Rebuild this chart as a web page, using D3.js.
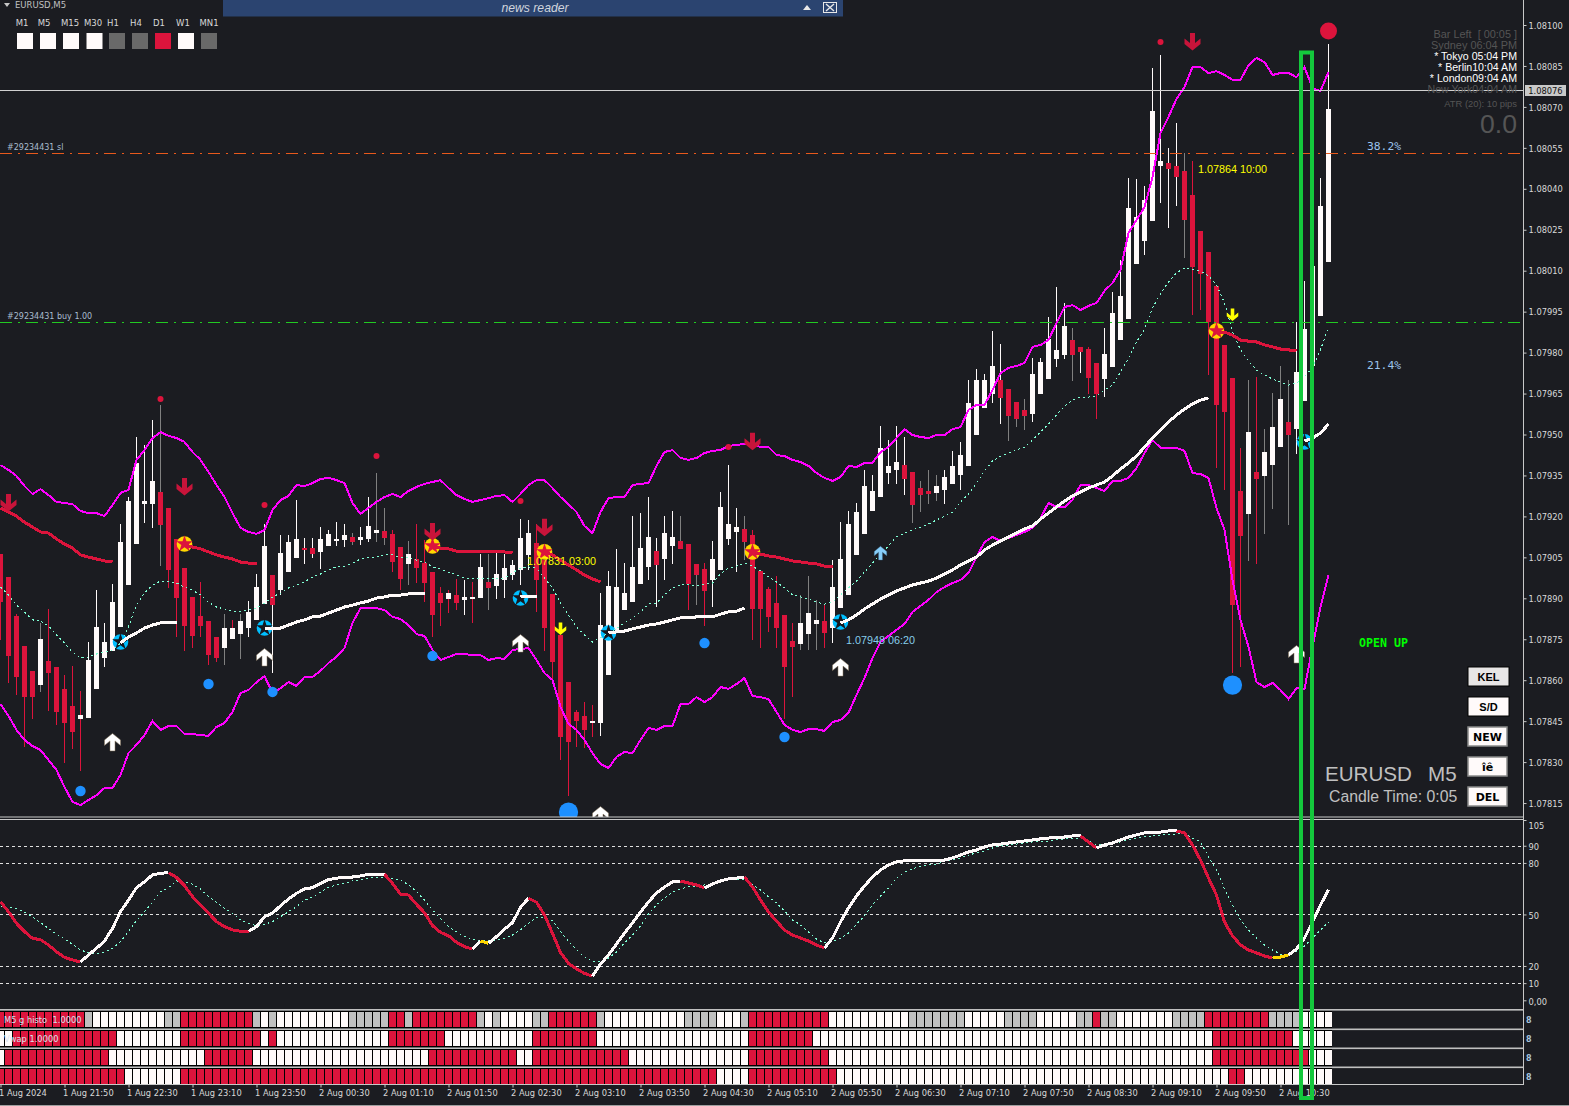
<!DOCTYPE html>
<html><head><meta charset="utf-8">
<script src="https://cdnjs.cloudflare.com/ajax/libs/d3/7.8.5/d3.min.js"></script>
<style>
html,body{margin:0;padding:0;background:#1b1c21;overflow:hidden}
svg{display:block}
</style></head><body>
<svg id="c" width="1569" height="1106" font-family="DejaVu Sans, sans-serif"></svg>
<script>
// All price series are in points above 1.07800 (1 point = 0.00001).
const gap=n=>Array(n).fill(null);
const highs=[106.2,97.8,84.2,72.5,63.4,81.0,86.1,64.8,61.9,65.2,
56.0,74.0,93.0,81.0,95.2,117.2,127.1,149.1,146.2,155.3,
160.8,123.1,111.7,101.1,90.5,96.0,81.7,75.8,84.2,82.1,
84.2,89.0,98.9,117.2,98.5,113.2,113.2,126.0,112.1,112.1,
116.1,115.0,117.9,117.2,113.9,116.1,127.1,135.9,123.1,115.0,
108.8,111.0,117.2,111.4,99.6,94.1,93.0,97.1,96.7,96.0,
106.2,106.2,107.7,106.2,104.0,119.0,118.7,117.2,104.0,91.6,
76.6,59.3,49.1,52.0,50.9,91.9,100.0,108.1,102.9,120.1,
121.2,127.1,112.1,120.1,122.0,120.1,109.9,102.6,102.9,111.0,
128.9,138.8,123.1,120.1,115.0,100.0,94.1,98.2,83.9,81.0,
91.2,98.2,89.4,87.5,104.0,117.9,122.0,124.9,137.0,135.2,
153.1,148.0,153.1,149.1,136.3,133.0,137.0,135.2,137.0,144.0,
147.3,170.0,174.0,172.2,187.9,183.2,166.7,161.9,163.0,178.0,
178.0,193.0,204.0,198.2,189.0,182.1,182.1,176.2,189.0,202.2,
213.9,244.0,243.6,241.0,284.3,289.0,254.9,264.1,253.1,250.2,
224.5,216.8,204.4,182.8,170.7,145.1,170.0,171.1,152.0,165.2,
175.1,170.0,191.2,206.2,211.7,244.0,293.0];
const opens=[106.2,97.8,83.5,72.5,63.4,58.2,67.0,64.8,56.8,50.5,
45.8,46.2,56.8,68.1,70.7,79.5,94.9,109.9,124.5,124.5,
128.9,123.1,111.7,101.1,90.5,83.5,81.7,75.8,71.8,75.1,
76.9,79.1,82.1,87.9,98.5,93.0,99.6,104.8,108.4,108.4,
107.0,109.2,111.0,111.4,112.5,111.4,111.7,113.9,114.7,113.6,
108.8,102.6,104.4,102.9,99.6,91.9,89.7,91.2,89.4,89.7,
90.1,96.0,94.5,96.7,98.5,100.4,105.9,110.3,104.0,91.6,
76.6,59.3,48.4,46.9,44.3,44.3,61.9,78.4,85.7,88.6,
95.2,101.5,107.3,104.4,109.2,111.0,109.9,102.6,100.7,96.7,
100.4,111.7,114.3,115.4,113.2,100.0,93.4,88.3,83.9,74.4,
73.3,76.9,80.6,81.7,79.1,86.4,91.2,105.9,113.6,122.0,
127.1,135.9,137.0,138.8,136.3,130.4,129.3,128.6,129.7,131.9,
135.2,138.5,149.8,159.7,164.8,170.0,166.7,161.9,159.0,157.5,
164.8,170.3,177.7,179.1,184.6,182.1,181.3,176.2,170.3,174.7,
184.6,192.3,212.5,220.9,228.2,248.4,249.5,248.4,246.5,237.7,
224.5,216.8,204.4,182.8,170.7,129.3,120.9,136.3,134.8,138.8,
145.4,154.6,152.0,162.3,175.1,193.4,213.2];
const closes=[88.6,68.9,61.2,53.8,53.8,75.1,62.6,48.4,44.3,41.0,
47.3,67.4,79.5,74.0,88.6,110.6,125.6,139.6,125.6,133.0,
116.8,100.4,90.1,79.9,76.2,79.9,69.2,68.1,79.1,79.1,
81.7,85.0,94.1,109.2,87.5,106.6,110.6,111.7,107.7,106.2,
111.7,113.6,111.7,113.2,110.6,112.5,116.5,115.0,112.1,103.3,
97.1,106.2,101.1,95.6,83.9,88.3,91.9,88.3,90.5,90.5,
101.5,93.8,98.9,101.1,102.2,112.1,113.9,96.7,79.1,66.7,
39.2,37.4,45.1,41.8,45.1,80.2,94.5,94.1,91.9,101.5,
108.4,112.5,102.2,113.9,112.5,108.1,95.2,98.5,92.7,104.4,
123.4,117.2,116.1,110.6,86.1,86.1,83.2,79.1,64.8,72.2,
81.0,84.6,82.1,77.3,94.1,104.4,117.2,121.6,131.1,129.3,
145.1,138.5,139.9,133.7,124.2,127.8,128.2,131.1,134.4,138.5,
142.5,161.5,170.0,170.0,175.1,163.4,156.8,155.7,156.8,172.2,
176.6,185.0,181.0,189.7,179.1,180.2,170.7,164.8,179.5,194.5,
200.7,233.0,229.7,235.9,268.5,250.2,247.3,244.3,228.6,211.4,
208.8,191.2,160.8,158.2,87.5,112.8,150.9,133.7,143.6,152.7,
163.0,149.8,172.9,188.6,211.7,233.7,269.2];
const lows=[74.7,59.0,54.6,35.5,45.8,55.7,48.7,43.6,29.7,34.8,
26.7,46.2,56.8,64.8,70.7,79.5,94.9,109.9,117.6,115.8,
101.8,93.8,75.8,70.7,71.8,75.8,65.6,66.7,65.6,75.1,
67.8,75.8,82.1,87.9,62.6,91.2,99.6,104.8,102.6,104.8,
100.7,109.2,109.2,108.8,109.5,109.5,110.6,110.6,109.5,99.6,
93.0,94.9,95.6,88.6,75.8,79.9,84.6,85.7,83.9,81.0,
90.1,85.7,89.7,90.1,96.7,94.9,100.4,85.0,70.7,60.1,
30.8,17.6,35.5,35.2,39.2,39.6,61.9,78.4,85.7,88.6,
95.2,96.7,86.8,96.7,102.6,108.1,85.7,87.5,79.9,86.8,
100.4,109.5,99.6,104.0,74.7,71.8,77.7,71.8,45.8,53.8,
71.1,71.1,71.1,71.8,73.6,86.4,91.2,105.9,113.6,122.0,
127.1,131.9,131.9,127.8,117.6,121.6,124.5,125.6,124.5,131.9,
129.7,138.5,149.8,159.7,161.5,153.8,147.6,152.7,151.6,154.6,
164.8,170.3,174.7,177.7,169.6,172.5,164.8,155.7,163.7,174.7,
184.6,192.3,212.5,215.7,228.2,234.8,225.6,233.7,214.7,193.8,
195.6,171.8,137.7,129.7,62.6,64.8,103.7,102.6,113.6,122.7,
145.4,116.8,142.9,162.3,175.1,193.4,213.2];
const wickTones=("rrrrrgrrrr"+"rwwwwwwwww"+"grrrrrrrgr"+"gwwwwwwwww"+"wwwwgwwggr"+"rgrrrrrrwr"+"wgwwwwwrrr"+"rrrrrwwwww"+"wwwwwgrgrw"+"wwwgrrrrrr"+"gggrwwwwww"+"wwwwggggww"+"wwwwwwgggw"+"wwwwgwrrww"+"wwwwwwwwgr"+"rrrrrrgrgg"+"ggwwwww").split("");
const upperBand=[138.8,137.0,134.8,131.1,128.2,130.0,127.8,125.3,124.9,124.5,
122.0,121.2,121.2,120.1,124.2,128.6,129.7,140.7,144.3,148.7,
150.9,149.5,148.7,147.3,143.6,140.7,136.3,131.5,127.1,121.2,
115.8,114.3,113.6,115.0,122.3,126.0,127.5,131.5,131.1,132.2,
133.7,134.1,133.3,132.2,124.9,120.9,123.1,125.3,127.1,128.2,
127.1,129.3,130.8,131.9,132.6,133.3,130.4,127.8,126.4,125.3,
126.0,126.7,127.5,127.8,125.3,128.2,131.5,133.3,133.3,130.4,
127.1,124.5,121.6,116.5,113.9,121.6,126.7,127.1,127.1,131.5,
131.9,132.2,138.5,143.6,144.3,141.4,140.7,141.4,143.2,144.0,
144.3,145.8,146.2,146.5,146.5,145.4,145.4,142.5,142.1,140.7,
139.9,138.5,135.9,134.1,133.0,134.4,138.5,138.1,139.6,139.6,
143.6,145.4,148.7,152.0,149.8,149.1,148.7,149.8,149.8,152.0,
152.7,159.0,160.8,160.8,166.3,172.5,174.4,175.1,176.2,182.1,
182.8,184.6,190.8,196.7,197.4,195.6,197.1,198.2,202.6,205.5,
210.3,223.8,228.6,233.3,244.3,260.4,266.3,272.9,277.3,284.6,
284.6,282.4,283.1,281.7,279.9,279.9,285.3,287.9,286.4,281.7,
282.4,282.4,280.9,284.6,276.9,275.8,282.8];
const lowerBand=[51.3,46.9,41.8,38.1,35.9,34.4,30.8,27.1,20.9,15.4,
14.3,16.1,17.9,20.5,20.5,25.3,33.3,36.3,39.9,45.1,
41.8,43.2,43.2,40.3,40.3,39.9,39.6,42.9,44.3,48.4,
55.3,56.4,59.3,61.5,55.3,57.1,59.3,57.9,61.2,61.2,
63.4,66.3,68.5,71.8,81.0,86.4,86.4,86.4,85.7,83.2,
82.4,80.2,76.9,76.2,71.1,67.4,68.5,69.6,69.6,69.2,
69.2,67.4,68.1,67.8,71.1,71.4,71.8,67.4,62.6,60.1,
50.2,44.0,41.8,38.1,33.3,29.3,27.8,31.9,33.7,33.3,
38.1,42.5,41.8,43.2,43.2,51.3,51.3,53.8,52.0,53.8,
57.5,56.8,58.6,60.8,54.2,53.8,53.1,48.4,43.6,41.8,
41.0,42.1,42.1,41.4,44.7,45.4,48.0,54.6,60.8,68.1,
74.0,76.2,78.4,80.6,85.0,87.2,89.4,92.3,94.1,95.6,
96.7,99.3,105.1,110.6,112.5,111.0,112.1,113.2,114.3,115.8,
119.4,124.9,123.4,123.4,126.0,131.5,131.5,130.4,129.3,133.0,
133.0,134.1,137.7,143.2,148.0,145.1,145.1,145.1,144.0,135.9,
135.5,134.1,123.1,115.0,96.7,82.1,72.2,59.3,57.5,59.0,
56.4,53.1,57.1,56.8,72.2,86.8,98.5];
const slowAverage=[94.1,91.2,87.5,85.0,82.1,81.7,79.9,76.6,73.6,70.3,
68.1,68.5,69.6,70.3,71.1,73.6,79.5,87.5,91.9,94.9,
96.3,96.3,95.6,94.1,93.0,91.2,88.6,86.8,86.1,85.3,
85.3,85.7,86.4,88.3,90.5,91.9,93.8,94.9,96.0,97.8,
98.9,100.4,101.5,101.8,102.9,104.4,105.1,105.1,105.9,105.9,
104.8,105.1,104.0,103.3,101.5,100.7,99.6,98.5,97.4,97.1,
97.4,97.4,97.1,97.4,99.3,101.1,101.5,101.1,97.4,93.8,
88.3,83.9,79.5,76.6,74.0,75.5,77.3,78.8,81.0,82.8,
85.0,87.9,88.3,91.2,93.8,94.9,94.9,94.5,95.2,95.6,
98.9,101.1,101.8,102.9,101.8,100.0,97.8,96.0,93.8,91.2,
90.5,89.7,88.6,87.9,88.6,91.2,93.8,96.3,99.6,102.9,
106.2,109.2,112.5,113.9,115.0,116.1,117.2,118.7,120.1,121.6,
125.3,128.2,132.2,136.6,140.3,142.1,143.2,144.3,145.4,148.0,
150.9,153.8,157.1,160.4,162.6,163.7,163.7,164.1,166.3,168.1,
172.9,178.0,183.9,188.6,196.3,201.5,205.9,209.2,211.0,210.6,
209.9,208.1,204.8,198.2,187.5,181.0,176.9,173.6,171.8,170.3,
169.2,168.1,168.9,171.1,174.7,181.0,189.4];
const whiteTrend=[...gap(15),73.6,75.8,77.3,79.1,80.2,81.0,81.3,81.3,...gap(10),
79.1,79.1,79.1,80.2,81.3,82.1,83.2,83.5,84.6,85.7,86.8,87.5,88.3,89.0,90.1,90.5,91.2,91.2,91.6,91.6,91.6,...gap(11),
90.5,90.8,90.8,...gap(8),
77.3,77.7,78.0,78.8,79.5,80.2,80.6,81.3,82.1,82.8,82.8,83.2,83.2,83.2,84.2,85.0,85.3,86.4,...gap(11),
81.0,82.1,83.9,86.1,87.9,89.7,91.2,92.7,93.8,94.9,95.6,96.3,97.4,98.9,100.4,102.2,103.7,105.1,107.7,109.5,111.0,112.5,113.9,115.4,116.5,119.0,121.2,123.4,125.6,127.5,128.9,130.4,131.5,132.6,134.8,137.4,139.6,142.1,145.4,148.7,151.6,154.6,157.1,159.3,161.2,162.6,163.4,...gap(11),
147.6,148.7,150.5,153.8];
const redTrend=[123.1,121.6,120.1,117.9,116.1,114.3,113.9,111.7,109.9,108.4,105.9,105.1,104.4,103.7,103.3,...gap(8),
109.5,108.8,108.1,107.0,105.9,105.1,104.4,103.3,102.9,102.9,...gap(21),
108.8,108.4,108.1,107.3,107.0,107.0,107.0,107.0,107.0,107.0,106.6,...gap(3),
107.0,105.9,104.0,102.2,100.4,98.5,97.1,96.0,...gap(18),
106.6,106.2,105.5,105.1,104.4,103.7,103.3,102.9,102.6,101.8,101.8,...gap(47),
187.5,187.5,186.4,184.6,184.2,183.9,182.8,182.1,181.3,181.0,180.6,...gap(4)];
const oscMain=[57.4,51.6,44.8,40.0,36.1,35.3,32.2,28.3,25.0,23.5,
22.3,26.4,30.3,34.5,41.9,51.6,58.4,65.6,69.1,73.0,
74.0,74.3,71.6,66.8,60.4,55.5,50.7,45.8,42.9,41.0,
40.2,40.2,42.9,48.7,50.7,55.1,59.0,62.3,64.8,65.6,
68.1,70.3,71.1,71.8,71.8,72.4,73.4,73.4,73.4,68.1,
61.9,61.3,55.9,51.0,43.5,39.6,37.6,33.8,31.2,29.9,
34.5,33.2,37.1,41.5,45.2,54.2,59.4,57.1,49.7,39.0,
27.9,21.5,18.2,15.7,14.0,
21.1,26.4,32.8,39.2,45.0,51.4,57.3,62.5,66.0,68.9,
69.5,68.3,67.2,65.4,67.7,69.5,70.7,71.2,71.8,66.0,
58.4,51.4,46.2,40.9,38.0,36.3,34.5,32.2,30.5,36.3,
45.6,53.8,60.8,66.6,71.8,75.9,78.8,80.6,81.2,81.2,
81.2,81.2,81.7,81.7,82.9,84.6,86.4,87.5,89.3,90.5,
91.0,91.6,92.2,92.8,93.4,94.0,94.5,95.1,95.1,95.7,
95.7,92.2,88.7,90.5,91.6,93.4,95.1,96.3,97.5,98.0,
98.0,98.6,98.6,97.5,90.5,81.7,71.2,61.3,45.6,37.5,
32.2,29.3,27.6,25.8,24.6,25.2,26.4,29.9,36.3,45.6,
55.5,64.3];
const oscSignal=[54.5,54.2,53.6,51.3,48.7,45.2,41.9,38.6,35.7,32.6,
29.3,27.7,27.0,27.9,30.3,34.2,40.0,46.4,51.6,57.1,
63.3,65.6,69.5,69.1,67.7,64.8,60.4,57.1,53.6,50.7,
46.8,44.8,43.5,44.2,45.8,48.7,51.6,54.5,58.4,60.0,
62.9,65.8,67.2,68.1,69.5,70.1,71.1,71.6,71.8,71.1,
70.1,67.2,63.3,58.4,52.6,47.7,42.9,40.0,37.1,35.5,
34.5,34.7,35.1,36.1,38.0,41.0,44.8,48.3,48.1,46.4,
40.0,34.5,29.3,25.4,22.5,
22.3,24.6,28.1,33.4,38.0,43.3,50.3,55.5,59.6,63.1,
64.9,66.0,66.6,67.2,67.7,68.9,70.1,70.1,70.1,67.2,
64.3,60.2,56.7,52.0,46.8,43.9,39.8,35.7,33.4,34.0,
36.3,39.2,44.4,49.1,55.5,60.8,65.4,71.2,74.7,76.5,
78.2,78.8,79.4,80.6,81.7,82.9,84.6,85.8,87.0,88.7,
89.9,90.5,91.0,91.6,92.2,92.2,92.8,93.4,94.0,94.5,
94.5,92.8,90.5,91.0,91.6,92.2,93.4,94.5,95.1,95.7,
96.3,96.3,96.9,96.9,94.5,92.2,83.5,75.9,64.9,55.5,
46.8,40.9,36.3,32.2,29.3,26.9,26.4,28.7,31.6,36.3,
40.9,45.6];
const oscPhases=[[0,10,"d"],[10,21,"u"],[21,31,"d"],[31,48,"u"],[48,59,"d"],[59,60,"u"],[60,61,"f"],[61,66,"u"],[66,74,"d"],[74,85,"u"],[85,88,"d"],[88,93,"u"],[93,103,"d"],[103,135,"u"],[135,137,"d"],[137,147,"u"],[147,159,"d"],[159,161,"f"],[161,166,"u"]];
const oscLevels=[90,80,50,20,10];
const oscTicks=[105,90,80,50,20,10,0];
const priceTicks=[300,285,270,255,240,225,210,195,180,165,150,135,120,105,90,75,60,45,30,15];
const timeLabels=["1 Aug 2024","1 Aug 21:50","1 Aug 22:30","1 Aug 23:10","1 Aug 23:50","2 Aug 00:30","2 Aug 01:10","2 Aug 01:50","2 Aug 02:30","2 Aug 03:10","2 Aug 03:50","2 Aug 04:30","2 Aug 05:10","2 Aug 05:50","2 Aug 06:30","2 Aug 07:10","2 Aug 07:50","2 Aug 08:30","2 Aug 09:10","2 Aug 09:50","2 Aug 10:30"];
const heatRow1=[["R",11],["G",1],["W",9],["G",2],["R",9],["G",1],["W",1],["G",1],["W",9],["G",5],["R",2],["G",1],["R",8],["G",1],["W",1],["G",1],["W",4],["G",2],["R",6],["G",1],["W",10],["G",4],["W",3],["G",1],["R",10],["W",10],["G",7],["W",5],["G",4],["W",5],["G",2],["R",1],["G",2],["W",7],["G",4],["R",8],["G",4],["W",4]];
const heatRow2=[["W",2],["R",13],["W",8],["R",10],["W",1],["R",1],["W",14],["R",7],["W",11],["R",8],["W",19],["R",8],["W",50],["R",10],["W",5]];
const heatRow3=[["W",1],["R",13],["W",12],["R",6],["W",22],["R",11],["W",2],["R",12],["W",15],["R",10],["W",48],["R",12],["W",3]];
const heatRow4=[["R",16],["W",7],["R",67],["W",4],["R",11],["W",49],["R",2],["W",11]];
const redArrows=[[1,124.9],[23,130.8],[54,114.3],[68,115.8],[94,147.3],[149,293.8]];
const whiteArrows=[[14,37.4],[33,68.5],[65,73.6],[75,10.6],[105,64.8],[162,69.6]];
const yellowArrows=[[70,78.8],[154,193.8]];
const skyArrows=[[110,106.6]];
const blueDots=[[10,19.4],[26,58.6],[34,55.7],[54,68.9],[88,73.6],[98,39.2]];
const bigBlueDots=[[71,11.7],[154,58.2]];
const redDots=[[20,163.0],[33,124.2],[47,142.1],[65,125.6],[91,145.4],[145,293.8]];
const bigRedDots=[[166,297.8]];
const goldStars=[[23,109.9],[54,109.2],[68,107.0],[94,107.0],[152,187.9]];
const blueStars=[[15,74.0],[33,79.1],[65,90.1],[76,77.3],[105,81.3],[163,147.3]];
const bidLevel=276.2, slLevel=253.1, buyLevel=191.2;
const timeframes=["M1","M5","M15","M30","H1","H4","D1","W1","MN1"];
const timeframeStates=["W","W","W","W","N","N","R","W","N"];

const COL={bg:"#1b1c21",red:"#dc143c",white:"#fffafa",gray:"#808080",mag:"#ff00ff",aqua:"#7fffd4",axis:"#c8c8c8",blue:"#1e90ff",sky:"#00bfff",gold:"#ffd700"};
const svg=d3.select("#c");
svg.append("rect").attr("width",1569).attr("height",1106).attr("fill",COL.bg);
const defs=svg.append("defs");
defs.append("clipPath").attr("id","mainClip").append("rect").attr("width",1523).attr("height",817);
defs.append("clipPath").attr("id","oscClip").append("rect").attr("y",820).attr("width",1523).attr("height",188);

const x=d3.scaleLinear().domain([0,166]).range([0.5,1328.5]);
const y=d3.scaleLinear().domain([0,300]).range([844,25]);
const yo=d3.scaleLinear().domain([0,105]).range([1000.3,820]);
const main=svg.append("g").attr("clip-path","url(#mainClip)");

// candles
const tone={r:COL.red,w:COL.white,g:COL.gray};
const bars=d3.range(highs.length);
main.append("g").selectAll("rect").data(bars).join("rect")
 .attr("x",i=>Math.round(x(i)-0.5)).attr("width",1).attr("y",i=>y(highs[i])).attr("height",i=>Math.max(1,y(lows[i])-y(highs[i])))
 .attr("fill",i=>tone[wickTones[i]]).attr("shape-rendering","crispEdges");
main.append("g").selectAll("rect").data(bars).join("rect")
 .attr("x",i=>Math.round(x(i)-0.5)-2).attr("width",5).attr("y",i=>y(Math.max(opens[i],closes[i])))
 .attr("height",i=>Math.max(2,Math.abs(y(opens[i])-y(closes[i]))))
 .attr("fill",i=>closes[i]>=opens[i]?COL.white:COL.red).attr("shape-rendering","crispEdges");

// levels
const levelLine=(v,col,dash)=>svg.append("line").attr("x1",0).attr("x2",1523).attr("y1",Math.round(y(v))+.5).attr("y2",Math.round(y(v))+.5).attr("stroke",col).attr("stroke-dasharray",dash);
levelLine(slLevel,"#e8591c","12,6,2,6");
levelLine(buyLevel,"#22c822","12,6,2,6");
levelLine(bidLevel,"#d0d0d0",null);

// stars under the lines
const star=d3.symbol().type(d3.symbolStar).size(85);
const drawStars=(list,bg,fg)=>{
 const g=main.append("g").selectAll("g").data(list).join("g").attr("transform",d=>`translate(${x(d[0])},${y(d[1])})`);
 g.append("circle").attr("r",7.8).attr("fill",bg);
 g.append("path").attr("d",star).attr("fill",fg);
};
drawStars(goldStars,COL.gold,COL.red);
drawStars(blueStars,COL.sky,"#16181f");

// lines
const line=d3.line().defined(d=>d!=null).x((d,i)=>x(i)).y(d=>y(d));
const draw=(g,data,col,w,dash)=>g.append("path").attr("d",line(data)).attr("fill","none").attr("stroke",col).attr("stroke-width",w).attr("stroke-dasharray",dash||null).attr("shape-rendering","crispEdges");
draw(main,slowAverage,COL.aqua,1,"2,3");
draw(main,upperBand,COL.mag,2);
draw(main,lowerBand,COL.mag,2);
draw(main,redTrend,COL.red,3);
draw(main,whiteTrend,COL.white,3);

// arrows
const arrowPath="M-2.5,-9L2.5,-9L2.5,1L8,-3.5L8,2L0,8.5L-8,2L-8,-3.5L-2.5,1Z";
const drawArrows=(list,col,up,s,edge)=>main.append("g").selectAll("path").data(list).join("path")
 .attr("d",arrowPath).attr("transform",d=>`translate(${x(d[0])},${y(d[1])}) scale(${s},${up?-s:s})`)
 .attr("fill",col).attr("stroke",edge||"none").attr("stroke-width",.5);
drawArrows(redArrows,"#c8143a",false,1);
drawArrows(whiteArrows,"#ffffff",true,1,"#8c7a60");
drawArrows(yellowArrows,"#ffff00",false,.72);
drawArrows(skyArrows,"#87cefa",true,.78,"#3a6a90");
// dots
const drawDots=(list,col,r)=>main.append("g").selectAll("circle").data(list).join("circle")
 .attr("cx",d=>x(d[0])).attr("cy",d=>y(d[1])).attr("r",r).attr("fill",col);
drawDots(blueDots,COL.blue,5.2);
drawDots(bigBlueDots,COL.blue,9.6);
drawDots(redDots,COL.red,3);
drawDots(bigRedDots,COL.red,8.5);

// separator between panes
[817,819.5].forEach(v=>svg.append("line").attr("x1",0).attr("x2",1523).attr("y1",v).attr("y2",v).attr("stroke","#c8c8c8").attr("stroke-width",1));

// oscillator
const osc=svg.append("g").attr("clip-path","url(#oscClip)");
osc.append("g").selectAll("line").data(oscLevels).join("line").attr("x1",0).attr("x2",1523)
 .attr("y1",d=>Math.round(yo(d))+.5).attr("y2",d=>Math.round(yo(d))+.5).attr("stroke","#e0e0e0").attr("stroke-dasharray","3,3");
const oline=d3.line().x(d=>x(d.i)).y(d=>yo(d.v));
osc.append("path").attr("d",oline(oscSignal.map((v,i)=>({i,v})))).attr("fill","none").attr("stroke",COL.aqua).attr("stroke-dasharray","2,3").attr("shape-rendering","crispEdges");
const phaseCol={d:COL.red,u:COL.white,f:COL.gold};
oscPhases.forEach(([a,b,k])=>{
 const pts=d3.range(a,b+1).map(i=>({i,v:oscMain[i]}));
 osc.append("path").attr("d",oline(pts)).attr("fill","none").attr("stroke",phaseCol[k]).attr("stroke-width",3).attr("shape-rendering","crispEdges");
});

// heat rows
const rowTops=[1012,1031,1050,1069], rowH=[15,15,15,14.5];
const heatCol={R:COL.red,W:COL.white,G:"#c0c0c0"};
[1009,1028.5,1047.5,1066.5].forEach(v=>svg.append("rect").attr("x",0).attr("y",v).attr("width",1523).attr("height",1.6).attr("fill","#c0c0c0"));
[heatRow1,heatRow2,heatRow3,heatRow4].forEach((runs,r)=>{
 const cells=runs.flatMap(([k,n])=>Array(n).fill(k));
 svg.append("rect").attr("x",0).attr("y",rowTops[r]-1).attr("width",1332).attr("height",rowH[r]+2).attr("fill","#000");
 svg.append("g").selectAll("rect").data(cells).join("rect")
  .attr("x",(d,i)=>Math.round(x(i)-0.5)-3).attr("width",7).attr("y",rowTops[r]).attr("height",rowH[r]).attr("fill",d=>heatCol[d]).attr("shape-rendering","crispEdges");
});
svg.append("text").text("M5 g histo  1.0000").attr("x",4).attr("y",1023).attr("font-size",8.3).attr("fill","#cfe0f0").attr("xml:space","preserve");
svg.append("text").text("Vwap 1.0000").attr("x",4).attr("y",1042).attr("font-size",8.3).attr("fill","#d8e4f0");
d3.range(4).forEach(r=>svg.append("text").text("8").attr("x",1526).attr("y",rowTops[r]+11).attr("font-size",8).attr("font-weight","bold").attr("fill","#a8c4dc"));

// axes
const axisFont=g=>g.selectAll("text").attr("font-size",8.3).attr("fill","#d8d8d8").attr("font-family",'"DejaVu Sans",sans-serif');
const ay=d3.axisRight(y).tickValues(priceTicks).tickSize(3).tickPadding(2).tickFormat(v=>(1.078+v/1e5).toFixed(5));
const gy=svg.append("g").attr("transform","translate(1523.5,0)").call(ay);
gy.select(".domain").remove();gy.selectAll("line").attr("stroke",COL.axis);axisFont(gy);
gy.selectAll("text").attr("dy","0.38em");
const ao=d3.axisRight(yo).tickValues(oscTicks).tickSize(3).tickPadding(2).tickFormat(v=>v===0?"0,00":String(v));
const go=svg.append("g").attr("transform","translate(1523.5,0)").call(ao);
go.select(".domain").remove();go.selectAll("line").attr("stroke",COL.axis);axisFont(go);
go.selectAll("text").attr("dy","0.45em");
go.selectAll(".tick").filter(d=>d===105).select("text").attr("dy","1.05em");
svg.append("line").attr("x1",1523.5).attr("x2",1523.5).attr("y1",0).attr("y2",1085).attr("stroke",COL.axis);
const timeTicks=timeLabels.map((d,i)=>i*8);
const ax=d3.axisBottom(x).tickValues(timeTicks).tickSize(3).tickPadding(3).tickFormat((d,i)=>timeLabels[i]);
const gx=svg.append("g").attr("transform","translate(0,1084.5)").call(ax);
gx.select(".domain").remove();gx.selectAll("line").attr("stroke",COL.axis);axisFont(gx);
gx.selectAll("text").attr("text-anchor","start").attr("dx",-2);
svg.append("line").attr("x1",0).attr("x2",1523.5).attr("y1",1084.5).attr("y2",1084.5).attr("stroke",COL.axis);
svg.append("rect").attr("x",0).attr("y",1105).attr("width",1569).attr("height",1).attr("fill","#a0a0a0");

// user rectangle
svg.append("rect").attr("x",1301).attr("y",52.5).attr("width",11).attr("height",1045.5).attr("fill","none").attr("stroke","#14c83c").attr("stroke-width",4);

// bid tag
svg.append("rect").attr("x",1525).attr("y",85).attr("width",41).attr("height",11).attr("fill","#c8c8c8");
svg.append("text").text((1.078+bidLevel/1e5).toFixed(5)).attr("x",1545.5).attr("y",93.5).attr("text-anchor","middle").attr("font-size",8.3).attr("fill","#111");

// header
svg.append("path").attr("d","M4,3L10,3L7,7Z").attr("fill","#c8c8c8");
svg.append("text").text("EURUSD,M5").attr("x",15).attr("y",8).attr("font-size",8.5).attr("fill","#c0c0c0");
const tfX=[17,40,63,86.5,109,132,155,178,201], tfLab=[22,44,70,93,113,136,159,183,209];
const tfFill={W:COL.white,N:"#696969",R:COL.red};
timeframes.forEach((t,i)=>{
 svg.append("text").text(t).attr("x",tfLab[i]).attr("y",26).attr("text-anchor","middle").attr("font-size",8.5).attr("fill","#d8d8d8");
 svg.append("rect").attr("x",tfX[i]).attr("y",33).attr("width",16).attr("height",16).attr("fill",tfFill[timeframeStates[i]]);
});

// news reader bar
svg.append("rect").attr("x",223).attr("y",0).attr("width",620).attr("height",16.5).attr("fill","#2b4470");
svg.append("text").text("news reader").attr("x",535).attr("y",12).attr("text-anchor","middle").attr("font-size",12.2).attr("font-style","italic").attr("font-family","Liberation Sans").attr("fill","#d0d4dc");
svg.append("path").attr("d","M803,10L811,10L807,5Z").attr("fill","#e8e8e8");
svg.append("rect").attr("x",823.5).attr("y",2.5).attr("width",13).attr("height",10).attr("fill","none").attr("stroke","#e8e8e8");
svg.append("path").attr("d","M826,4L834,11M834,4L826,11").attr("stroke","#e8e8e8").attr("stroke-width",1.4);

// annotations
const label=(t,px,py,size,col,opts={})=>{
 const s=svg.append("text").text(t).attr("x",px).attr("y",py).attr("font-size",size).attr("fill",col).attr("xml:space","preserve");
 if(opts.anchor)s.attr("text-anchor",opts.anchor);
 if(opts.family)s.attr("font-family",opts.family);
 if(opts.weight)s.attr("font-weight",opts.weight);
 return s;
};
label("#29234431 sl",7,150,8,"#a9bccf");
label("#29234431 buy 1.00",7,319,8,"#a9bccf");
label("38.2%",1367,150,11.3,"#9cc4ee",{family:"DejaVu Sans Mono"});
label("21.4%",1367,369,11.3,"#9cc4ee",{family:"DejaVu Sans Mono"});
label("OPEN UP",1359,647,11.6,"#00ff00",{family:"DejaVu Sans Mono",weight:"bold"});
label("1.07864 10:00",1198,173,10.8,"#ffff00",{family:"Liberation Sans"});
label("1.07831 03:00",527,565,10.8,"#ffff00",{family:"Liberation Sans"});
label("1.07948 06:20",846,644,10.8,"#87ceeb",{family:"Liberation Sans"});
const LS="Liberation Sans";
label("Bar Left  [ 00:05 ]",1517,38,10.9,"#555",{anchor:"end",family:LS});
label("Sydney 06:04 PM",1517,49,10.9,"#555",{anchor:"end",family:LS});
label("* Tokyo 05:04 PM",1517,60,10.6,"#fff",{anchor:"end",family:LS});
label("* Berlin10:04 AM",1517,71,10.6,"#fff",{anchor:"end",family:LS});
label("* London09:04 AM",1517,82,10.6,"#fff",{anchor:"end",family:LS});
label("New York04:04 AM",1517,93,10.6,"#555",{anchor:"end",family:LS});
label("ATR (20): 10 pips",1517,107,9.4,"#555",{anchor:"end",family:LS});
label("0.0",1517,133,26.6,"#555",{anchor:"end",family:LS});
label("EURUSD",1325,781,20.6,"#c0c0c0",{family:LS});
label("M5",1428,781,20.6,"#c0c0c0",{family:LS});
label("Candle Time: 0:05",1329,802,15.8,"#c0c0c0",{family:LS});
// buttons
[["KEL",667,"#e8e6e6",0],["S/D",697,"#fffafa",0],["NEW",727,"#fffafa",1],["îê",757,"#fffafa",1],["DEL",787,"#fffafa",1]].forEach(([t,py,f,raised])=>{
 const w=raised?39:41;
 svg.append("rect").attr("x",1468).attr("y",py).attr("width",w).attr("height",19).attr("fill",f).attr("stroke",raised?"#8a8a8a":"#000").attr("stroke-width",raised?1.5:1);
 svg.append("text").text(t).attr("x",1468+w/2).attr("y",py+14).attr("text-anchor","middle").attr("font-size",11).attr("font-weight","bold").attr("fill","#000").attr("font-family",raised?"DejaVu Sans":"Liberation Sans");
});
</script></body></html>
